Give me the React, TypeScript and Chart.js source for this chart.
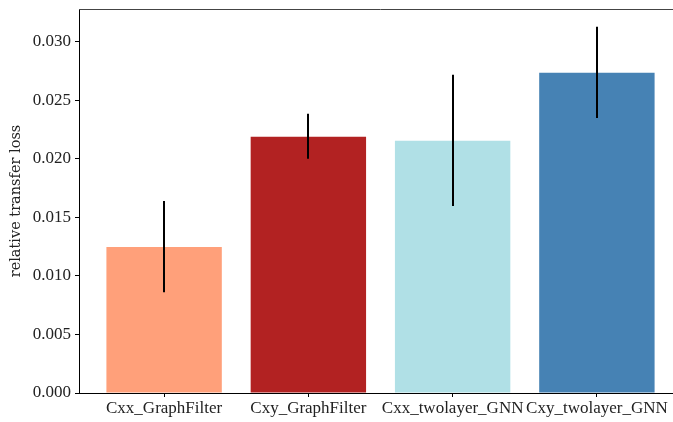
import React, { useEffect, useRef } from "react";
import { Chart, registerables } from "chart.js";

Chart.register(...registerables);

const categories = ["Cxx_GraphFilter", "Cxy_GraphFilter", "Cxx_twolayer_GNN", "Cxy_twolayer_GNN"];
const means = [0.01248, 0.02188, 0.02154, 0.02735];
const errLow = [0.0086, 0.0200, 0.01598, 0.0235];
const errHigh = [0.0164, 0.02385, 0.02718, 0.03128];
const colors = ["#FFA07A", "#B22222", "#B0E0E6", "#4682B4"];
const yTicks = [0, 0.005, 0.01, 0.015, 0.02, 0.025, 0.03];

const FONT = "'Liberation Serif', 'DejaVu Serif', serif";
const TITLE_FONT = "'DejaVu Serif', serif";

const errorBarPlugin = {
  id: "errorBars",
  afterDatasetsDraw(chart: any) {
    const { ctx, scales } = chart;
    const xs = scales.x;
    const ys = scales.y;
    ctx.save();
    ctx.strokeStyle = "#000";
    ctx.lineWidth = 2;
    for (let i = 0; i < means.length; i++) {
      const x = Math.round(xs.getPixelForValue(i));
      ctx.beginPath();
      ctx.moveTo(x, ys.getPixelForValue(errLow[i]));
      ctx.lineTo(x, ys.getPixelForValue(errHigh[i]));
      ctx.stroke();
    }
    const a = chart.chartArea;
    ctx.strokeStyle = "#444";
    ctx.lineWidth = 1;
    ctx.beginPath();
    ctx.moveTo(a.left, Math.round(a.top) + 0.5);
    ctx.lineTo(a.right, Math.round(a.top) + 0.5);
    ctx.stroke();
    ctx.restore();
  },
};

export default function App() {
  const ref = useRef<HTMLCanvasElement | null>(null);
  useEffect(() => {
    if (!ref.current) return;
    const chart = new Chart(ref.current, {
      type: "bar",
      data: {
        datasets: [
          {
            data: means.map((v, i) => ({ x: i, y: v })),
            backgroundColor: colors,
            borderWidth: 0,
            barPercentage: 0.8,
            categoryPercentage: 1.0,
          },
        ],
      },
      options: {
        animation: false,
        responsive: false,
        maintainAspectRatio: false,
        layout: { padding: { top: 9, right: 8, left: 0, bottom: 0 } },
        plugins: { legend: { display: false }, tooltip: { enabled: false } },
        scales: {
          x: {
            type: "linear",
            min: -0.59,
            max: 3.59,
            offset: false,
            afterBuildTicks: (s: any) => {
              s.ticks = categories.map((_, i) => ({ value: i }));
            },
            afterFit: (s: any) => {
              s.height = 29;
              s.paddingLeft = 0;
              s.paddingRight = 0;
            },
            ticks: {
              autoSkip: false,
              maxRotation: 0,
              padding: 1,
              color: "#222",
              font: { family: FONT, size: 17 },
              callback: (v: any) => categories[v] ?? "",
            },
            grid: { offset: false, drawOnChartArea: false, drawTicks: true, tickLength: 4, color: "#000" },
            border: { color: "#000", width: 1 },
          },
          y: {
            type: "linear",
            min: 0,
            max: 0.0328,
            afterBuildTicks: (s: any) => {
              s.ticks = yTicks.map((v) => ({ value: v }));
            },
            afterFit: (s: any) => {
              s.width = 79;
              s.paddingTop = 0;
              s.paddingBottom = 0;
            },
            ticks: {
              padding: 4,
              color: "#222",
              font: { family: FONT, size: 17 },
              callback: (v: any) => Number(v).toFixed(3),
            },
            grid: { drawOnChartArea: false, drawTicks: true, tickLength: 4, color: "#000" },
            border: { color: "#000", width: 1 },
            title: {
              display: true,
              text: "relative transfer loss",
              color: "#222",
              font: { family: TITLE_FONT, size: 14.5 },
              padding: { top: 8, bottom: 0 },
            },
          },
        },
      },
      plugins: [errorBarPlugin],
    });
    return () => chart.destroy();
  }, []);
  return (
    <div style={{ position: "fixed", left: 0, top: 0, width: 673, height: 422, overflow: "hidden", background: "#fff" }}>
      <canvas ref={ref} width={690} height={422} style={{ display: "block", width: 690, height: 422 }} />
    </div>
  );
}
